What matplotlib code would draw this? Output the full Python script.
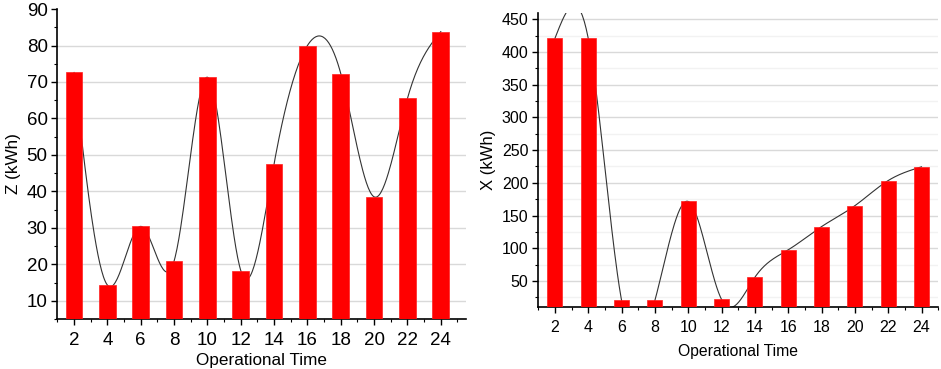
import numpy as np
import matplotlib.pyplot as plt
from matplotlib.ticker import MultipleLocator

plt.rcParams['font.family'] = ['Liberation Sans', 'DejaVu Sans']

# Data
hours = [2, 4, 6, 8, 10, 12, 14, 16, 18, 20, 22, 24]
z_kwh = [72.6, 14.3, 30.4, 20.9, 71.3, 18.3, 47.6, 80.0, 72.3, 38.5, 65.5, 83.8]
x_kwh = [421, 421, 20, 20, 171.5, 21.5, 55.5, 97.5, 133, 165, 203.5, 224.5]


def natural_spline(x, y, n=400):
    # natural cubic spline through the points, plain numpy
    x = np.asarray(x, float)
    y = np.asarray(y, float)
    m = len(x)
    h = np.diff(x)
    A = np.zeros((m, m))
    b = np.zeros(m)
    A[0, 0] = A[-1, -1] = 1
    for i in range(1, m - 1):
        A[i, i - 1] = h[i - 1]
        A[i, i] = 2 * (h[i - 1] + h[i])
        A[i, i + 1] = h[i]
        b[i] = 6 * ((y[i + 1] - y[i]) / h[i] - (y[i] - y[i - 1]) / h[i - 1])
    M = np.linalg.solve(A, b)
    xs = np.linspace(x[0], x[-1], n)
    k = np.clip(np.searchsorted(x, xs) - 1, 0, m - 2)
    t0 = x[k + 1] - xs
    t1 = xs - x[k]
    hk = h[k]
    ys = (M[k] * t0**3 / (6 * hk) + M[k + 1] * t1**3 / (6 * hk)
          + (y[k] / hk - M[k] * hk / 6) * t0
          + (y[k + 1] / hk - M[k + 1] * hk / 6) * t1)
    return xs, ys


fig = plt.figure(figsize=(9.41, 3.69), dpi=100)
ax1 = fig.add_axes([0.061, 0.1355, 0.434, 0.84])
ax2 = fig.add_axes([0.572, 0.168, 0.425, 0.797])


def style(ax, ymin, ymax, ymaj, yminor, fs, xfs, xpad):
    ax.spines['top'].set_visible(False)
    ax.spines['right'].set_visible(False)
    for s in ('left', 'bottom'):
        ax.spines[s].set_linewidth(1.2)
    ax.set_ylim(ymin, ymax)
    ax.set_xticks(hours)
    ax.xaxis.set_minor_locator(MultipleLocator(1))
    ax.yaxis.set_major_locator(MultipleLocator(ymaj))
    ax.yaxis.set_minor_locator(MultipleLocator(yminor))
    ax.tick_params(which='major', direction='out', length=4, width=1, labelsize=fs, pad=3)
    ax.tick_params(axis='x', which='major', pad=5)
    ax.tick_params(which='minor', direction='out', length=2.5, width=0.8)
    ax.set_axisbelow(True)
    ax.set_xlabel('Operational Time', fontsize=xfs, labelpad=xpad)


# left panel
xs, ys = natural_spline(hours, z_kwh)
ax1.plot(xs, ys, color='#333333', linewidth=0.8, zorder=2)
ax1.bar(hours, z_kwh, width=1.0, color='#ff0000', edgecolor='#ff2020', linewidth=0.5, zorder=3)
style(ax1, 5, 90, 10, 5, 13.5, 12.3, 3)
ax1.set_xlim(1, 25.5)
ax1.set_yticks(range(10, 91, 10))
for v in range(10, 90, 10):
    ax1.axhline(v, color='#d9d9d9', linewidth=1.0, zorder=0)
ax1.set_ylabel('Z (kWh)', fontsize=12.3, labelpad=4)

# right panel
xs, ys = natural_spline(hours, x_kwh)
ax2.plot(xs, ys, color='#333333', linewidth=0.8, zorder=2)
ax2.bar(hours, x_kwh, width=0.9, color='#ff0000', edgecolor='#ff2020', linewidth=0.5, zorder=3)
style(ax2, 10, 460, 50, 25, 11.5, 11.3, 7)
ax2.set_xlim(1, 25)
ax2.grid(axis='y', which='major', color='#d9d9d9', linewidth=1.0)
ax2.grid(axis='y', which='minor', color='#f2f2f2', linewidth=1.0)
ax2.set_ylabel('X (kWh)', fontsize=12, labelpad=4)

fig.savefig('out.png', dpi=100)
